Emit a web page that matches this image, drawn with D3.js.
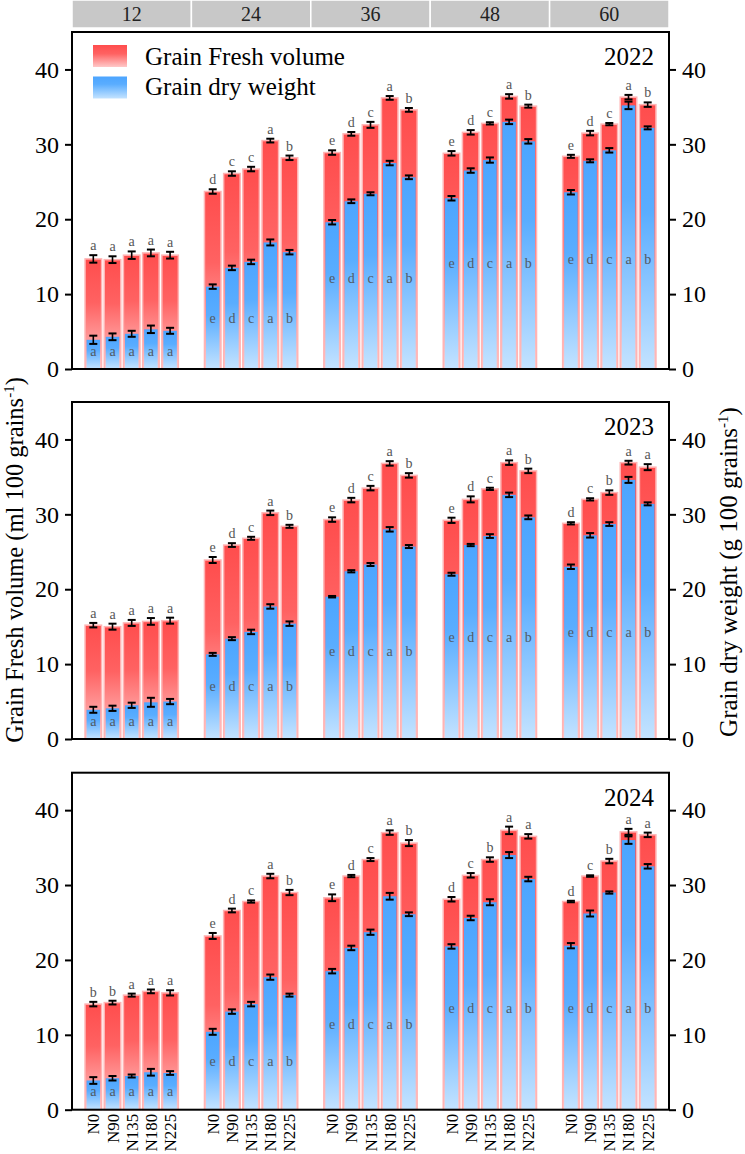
<!DOCTYPE html>
<html><head><meta charset="utf-8">
<script src="https://cdn.jsdelivr.net/npm/d3@7"></script>
<style>html,body{margin:0;padding:0;background:#fff;}svg{display:block;}</style>
</head><body>
<script>
// ---------------- data ----------------
const years = ["2022", "2023", "2024"];
const times = ["12", "24", "36", "48", "60"];
const treatments = ["N0", "N90", "N135", "N180", "N225"];
const yTicks = [0, 10, 20, 30, 40];
const legendLabels = ["Grain Fresh volume", "Grain dry weight"];

// Grain fresh volume (ml 100 grains-1), rows = time, cols = treatment
const fresh2022 = [[14.7,14.6,15.2,15.5,15.2],[23.7,26.1,26.7,30.5,28.2],[28.9,31.4,32.6,36.2,34.6],[28.8,31.6,32.8,36.4,35.1],[28.4,31.5,32.7,36.3,35.3]];
const fresh2023 = [[15.2,15.0,15.5,15.7,15.8],[23.9,25.9,26.8,30.2,28.4],[29.3,31.9,33.5,36.8,35.2],[29.2,32.0,33.4,36.9,35.8],[28.8,32.0,32.9,36.9,36.3]];
const fresh2024 = [[14.1,14.3,15.3,15.8,15.6],[23.2,26.6,27.8,31.2,29.0],[28.3,31.2,33.4,37.0,35.6],[28.1,31.3,33.4,37.3,36.5],[27.8,31.2,33.2,37.1,36.7]];
// Grain dry weight (g 100 grains-1)
const dry2022 = [[3.9,4.3,4.7,5.3,5.1],[11.0,13.5,14.3,16.9,15.6],[19.6,22.4,23.4,27.5,25.6],[22.8,26.5,27.9,33.0,30.4],[23.6,27.8,29.2,35.2,32.2]];
const dry2023 = [[3.9,4.1,4.5,4.9,5.0],[11.3,13.4,14.3,17.7,15.4],[19.0,22.4,23.3,28.0,25.7],[22.0,25.9,27.1,32.6,29.6],[23.0,27.2,28.7,34.6,31.4]];
const dry2024 = [[3.9,4.2,4.5,5.0,4.9],[10.4,13.1,14.1,17.7,15.3],[18.5,21.6,23.7,28.5,26.1],[21.8,25.6,27.7,34.0,30.8],[21.9,26.2,29.0,36.0,32.5]];
// standard errors
const freshErr2022 = [[0.5,0.45,0.5,0.45,0.45],[0.3,0.3,0.3,0.25,0.3],[0.3,0.25,0.4,0.25,0.25],[0.3,0.3,0.15,0.3,0.2],[0.2,0.3,0.15,0.3,0.3]];
const freshErr2023 = [[0.3,0.4,0.4,0.45,0.4],[0.4,0.25,0.2,0.3,0.2],[0.3,0.3,0.3,0.3,0.3],[0.35,0.4,0.15,0.3,0.3],[0.15,0.15,0.3,0.25,0.4]];
const freshErr2024 = [[0.3,0.25,0.2,0.25,0.35],[0.4,0.25,0.15,0.3,0.35],[0.45,0.15,0.2,0.3,0.4],[0.3,0.3,0.3,0.5,0.3],[0.1,0.1,0.3,0.4,0.3]];
const dryErr2022 = [[0.55,0.45,0.4,0.5,0.4],[0.3,0.3,0.3,0.4,0.3],[0.3,0.25,0.2,0.3,0.25],[0.3,0.3,0.35,0.3,0.3],[0.3,0.2,0.3,0.5,0.2]];
const dryErr2023 = [[0.4,0.35,0.35,0.6,0.35],[0.2,0.2,0.3,0.3,0.3],[0.1,0.15,0.2,0.3,0.2],[0.2,0.15,0.25,0.3,0.25],[0.3,0.3,0.25,0.4,0.2]];
const dryErr2024 = [[0.45,0.3,0.2,0.45,0.25],[0.4,0.3,0.3,0.35,0.2],[0.3,0.3,0.35,0.45,0.25],[0.3,0.3,0.4,0.4,0.3],[0.35,0.4,0.15,0.5,0.3]];
// significance letters
const freshSig2022 = [["a","a","a","a","a"],["d","c","c","a","b"],["e","d","c","a","b"],["e","d","c","a","b"],["e","d","c","a","b"]];
const freshSig2023 = [["a","a","a","a","a"],["e","d","c","a","b"],["e","d","c","a","b"],["e","d","c","a","b"],["d","c","b","a","a"]];
const freshSig2024 = [["b","b","a","a","a"],["e","d","c","a","b"],["e","d","c","a","b"],["d","c","b","a","a"],["d","c","b","a","a"]];
const drySig2022 = [["a","a","a","a","a"],["e","d","c","a","b"],["e","d","c","a","b"],["e","d","c","a","b"],["e","d","c","a","b"]];
const drySig2023 = [["a","a","a","a","a"],["e","d","c","a","b"],["e","d","c","a","b"],["e","d","c","a","b"],["e","d","c","a","b"]];
const drySig2024 = [["a","a","a","a","a"],["e","d","c","a","b"],["e","d","c","a","b"],["e","d","c","a","b"],["e","d","c","a","b"]];

const freshAll = [fresh2022, fresh2023, fresh2024];
const dryAll = [dry2022, dry2023, dry2024];
const freshErrAll = [freshErr2022, freshErr2023, freshErr2024];
const dryErrAll = [dryErr2022, dryErr2023, dryErr2024];
const freshSigAll = [freshSig2022, freshSig2023, freshSig2024];
const drySigAll = [drySig2022, drySig2023, drySig2024];

// ---------------- layout ----------------
const W = 745, H = 1154;
const FONT = "'Liberation Serif','Times New Roman',serif";
const left = 72, right = 669;
const panelTops = [32, 402, 772.7];
const panelH = 337;

const svg = d3.select("body").append("svg").attr("width", W).attr("height", H)
  .style("font-family", FONT);

const defs = svg.append("defs");
const rg = defs.append("linearGradient").attr("id", "redGrad").attr("x1", 0).attr("y1", 0).attr("x2", 0).attr("y2", 1);
rg.append("stop").attr("offset", "0%").attr("stop-color", "#ff4d4d");
rg.append("stop").attr("offset", "40%").attr("stop-color", "#ff6262");
rg.append("stop").attr("offset", "100%").attr("stop-color", "#ffc8c8");
const bg = defs.append("linearGradient").attr("id", "blueGrad").attr("x1", 0).attr("y1", 0).attr("x2", 0).attr("y2", 1);
bg.append("stop").attr("offset", "0%").attr("stop-color", "#4ca5ff");
bg.append("stop").attr("offset", "35%").attr("stop-color", "#5aadff");
bg.append("stop").attr("offset", "100%").attr("stop-color", "#c4e3ff");

const x0 = d3.scaleBand().domain(times).range([left, right]).padding(0);
const x1 = d3.scaleBand().domain(treatments).range([0, x0.bandwidth()]).paddingInner(0.14).paddingOuter(0.68);

// header strip
const header = svg.append("g");
header.selectAll("rect").data(times).join("rect")
  .attr("x", d => x0(d)).attr("y", 0).attr("width", x0.bandwidth()).attr("height", 28)
  .attr("fill", "#c8c8c8").attr("stroke", "#fff").attr("stroke-width", 1.5);
header.selectAll("text").data(times).join("text")
  .attr("x", d => x0(d) + x0.bandwidth() / 2).attr("y", 14).attr("dy", "0.35em")
  .attr("text-anchor", "middle").attr("font-size", 20).attr("fill", "#222").text(d => d);

years.forEach((yr, p) => {
  const top = panelTops[p];
  const y = d3.scaleLinear().domain([0, 45]).range([top + panelH, top]);
  const g = svg.append("g");
  const fresh = freshAll[p], dry = dryAll[p];
  const rows = [];
  times.forEach((t, i) => treatments.forEach((tr, j) => {
    rows.push({t, tr, i, j, f: fresh[i][j], d: dry[i][j], fe: freshErrAll[p][i][j], de: dryErrAll[p][i][j],
      fs: freshSigAll[p][i][j], ds: drySigAll[p][i][j], dmin: d3.min(dry[i])});
  }));
  const bx = r => x0(r.t) + x1(r.tr);
  const bw = x1.bandwidth();

  // red bars
  g.selectAll("rect.fresh").data(rows).join("rect").attr("class", "fresh")
    .attr("x", bx).attr("y", r => y(r.f)).attr("width", bw).attr("height", r => y(0) - y(r.f))
    .attr("fill", "url(#redGrad)").attr("stroke", "#ffb4b4").attr("stroke-width", 1.5);
  // error bars
  const eb = (v, e, cls) => {
    const ge = g.selectAll("g." + cls).data(rows).join("g").attr("class", cls)
      .attr("stroke", "#000").attr("stroke-width", 1.6);
    ge.append("line").attr("x1", r => bx(r) + bw / 2).attr("x2", r => bx(r) + bw / 2)
      .attr("y1", r => y(v(r) - e(r))).attr("y2", r => y(v(r) + e(r)));
    ge.append("line").attr("x1", r => bx(r) + bw / 2 - 4).attr("x2", r => bx(r) + bw / 2 + 4)
      .attr("y1", r => y(v(r) + e(r))).attr("y2", r => y(v(r) + e(r))).attr("stroke-width", 2);
    ge.append("line").attr("x1", r => bx(r) + bw / 2 - 4).attr("x2", r => bx(r) + bw / 2 + 4)
      .attr("y1", r => y(v(r) - e(r))).attr("y2", r => y(v(r) - e(r))).attr("stroke-width", 2);
  };
  eb(r => r.f, r => r.fe, "ferr");
  // blue bars
  g.selectAll("rect.dry").data(rows).join("rect").attr("class", "dry")
    .attr("x", r => bx(r) + 1.5).attr("y", r => y(r.d)).attr("width", bw - 3).attr("height", r => y(0) - y(r.d))
    .attr("fill", "url(#blueGrad)");
  eb(r => r.d, r => r.de, "derr");
  // letters
  g.selectAll("text.fsig").data(rows).join("text").attr("class", "fsig")
    .attr("x", r => bx(r) + bw / 2).attr("y", r => y(r.f + r.fe) - 5)
    .attr("text-anchor", "middle").attr("font-size", 14).attr("fill", "#555").text(r => r.fs);
  g.selectAll("text.dsig").data(rows).join("text").attr("class", "dsig")
    .attr("x", r => bx(r) + bw / 2).attr("y", r => y(r.dmin * 0.62)).attr("dy", "0.35em")
    .attr("text-anchor", "middle").attr("font-size", 14).attr("fill", "#505a66").text(r => r.ds);

  // frame
  g.append("rect").attr("x", left).attr("y", top).attr("width", right - left).attr("height", panelH)
    .attr("fill", "none").attr("stroke", "#000").attr("stroke-width", 2);
  // axes
  const la = g.append("g").attr("transform", `translate(${left},0)`)
    .call(d3.axisLeft(y).tickValues(yTicks).tickSize(7).tickPadding(6));
  const ra = g.append("g").attr("transform", `translate(${right},0)`)
    .call(d3.axisRight(y).tickValues(yTicks).tickSize(7).tickPadding(6));
  [la, ra].forEach(a => {
    a.select(".domain").remove();
    a.selectAll("line").attr("stroke", "#000").attr("stroke-width", 2);
    a.selectAll("text").attr("font-size", 24).attr("font-family", FONT).attr("fill", "#000");
  });
  // year label
  g.append("text").attr("x", 654).attr("y", top + 33).attr("text-anchor", "end")
    .attr("font-size", 25).text(yr);

  if (p === 2) {
    g.selectAll("text.xl").data(rows).join("text").attr("class", "xl")
      .attr("transform", r => `translate(${bx(r) + bw / 2 + 6},${top + panelH + 4}) rotate(-90)`)
      .attr("text-anchor", "end").attr("font-size", 17).text(r => r.tr);
  }
});

// legend
const leg = svg.append("g");
const grads = ["url(#redGrad)", "url(#blueGrad)"];
leg.selectAll("rect").data(legendLabels).join("rect")
  .attr("x", 93).attr("y", (d, i) => 45 + i * 31.5).attr("width", 34).attr("height", 22)
  .attr("fill", (d, i) => grads[i]);
leg.selectAll("text").data(legendLabels).join("text")
  .attr("x", 145).attr("y", (d, i) => 65 + i * 30).attr("font-size", 25).text(d => d);

// axis titles
const lt = svg.append("text").attr("transform", `translate(23,560) rotate(-90)`)
  .attr("text-anchor", "middle").attr("font-size", 24.5);
lt.append("tspan").text("Grain Fresh volume (ml 100 grains");
lt.append("tspan").attr("dy", -9).attr("font-size", 15).text("-1");
lt.append("tspan").attr("dy", 9).text(")");
const rt = svg.append("text").attr("transform", `translate(737,572) rotate(-90)`)
  .attr("text-anchor", "middle").attr("font-size", 25);
rt.append("tspan").text("Grain dry weight (g 100 grains");
rt.append("tspan").attr("dy", -9).attr("font-size", 15).text("-1");
rt.append("tspan").attr("dy", 9).text(")");
</script>
</body></html>
